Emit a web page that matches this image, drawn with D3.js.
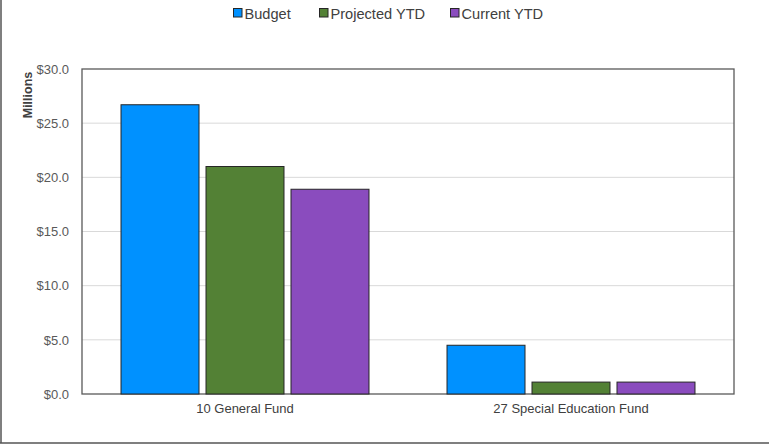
<!DOCTYPE html>
<html><head><meta charset="utf-8">
<script src="https://cdn.jsdelivr.net/npm/d3@7"></script>
<style>body{margin:0;background:#fff;} svg{display:block;font-family:"Liberation Sans",Arial,sans-serif;}</style>
</head><body>
<svg id="c" width="769" height="445"></svg>
<script>
const categories = ["10 General Fund", "27 Special Education Fund"];
const seriesNames = ["Budget", "Projected YTD", "Current YTD"];
const budget = [26.7, 4.5];
const projectedYTD = [21.0, 1.1];
const currentYTD = [18.9, 1.1];
const yTicks = [0, 5, 10, 15, 20, 25, 30];
const colors = ["#0091FF", "#538135", "#8A4CBE"];

const seriesValues = [budget, projectedYTD, currentYTD];
const svg = d3.select("#c");
const m = {l: 82, r: 734, t: 69, b: 394};

// outer border (left & bottom visible)
svg.append("line").attr("x1", 1).attr("x2", 1).attr("y1", 0).attr("y2", 443).attr("stroke", "#555").attr("stroke-width", 1.5);
svg.append("line").attr("x1", 0).attr("x2", 769).attr("y1", 443).attr("y2", 443).attr("stroke", "#555").attr("stroke-width", 1.5);

const x = d3.scaleBand().domain(categories).range([m.l, m.r]).paddingInner(0).paddingOuter(0);
const x1 = d3.scaleBand().domain(seriesNames).range([0, x.bandwidth()]).paddingInner(0.0824).paddingOuter(0.459);
const y = d3.scaleLinear().domain([0, 30]).range([m.b, m.t]);

// gridlines
svg.append("g").selectAll("line").data(yTicks.filter(d => d > 0 && d < 30)).join("line")
  .attr("x1", m.l).attr("x2", m.r).attr("y1", d => y(d)).attr("y2", d => y(d))
  .attr("stroke", "#d9d9d9").attr("stroke-width", 1);

// plot frame
svg.append("rect").attr("x", m.l).attr("y", m.t).attr("width", m.r - m.l).attr("height", m.b - m.t)
  .attr("fill", "none").attr("stroke", "#595959").attr("stroke-width", 1.3);

// bars
categories.forEach((c, ci) => {
  seriesNames.forEach((s, si) => {
    const v = seriesValues[si][ci];
    svg.append("rect")
      .attr("x", x(c) + x1(s)).attr("y", y(v))
      .attr("width", x1.bandwidth()).attr("height", y(0) - y(v))
      .attr("fill", colors[si]).attr("stroke", "#262626").attr("stroke-width", 1);
  });
});

// y axis
const yAxis = svg.append("g").attr("transform", `translate(${m.l},0)`)
  .call(d3.axisLeft(y).tickValues(yTicks).tickSize(0).tickPadding(13).tickFormat(d => "$" + d3.format(".1f")(d)));
yAxis.select(".domain").remove();
yAxis.selectAll("text").attr("fill", "#595959").style("font-size", "13px").style("font-family", "Liberation Sans, Arial, sans-serif");

// x axis
const xAxis = svg.append("g").attr("transform", `translate(0,${m.b})`)
  .call(d3.axisBottom(x).tickSize(0).tickPadding(10));
xAxis.select(".domain").remove();
xAxis.selectAll("text").attr("fill", "#404040").style("font-size", "13px").style("font-family", "Liberation Sans, Arial, sans-serif");

// y title
svg.append("text").attr("transform", "translate(32,95) rotate(-90)").attr("text-anchor", "middle")
  .attr("fill", "#404040").style("font-size", "12.5px").style("font-weight", "bold").text("Millions");

// legend
const legX = [233, 319, 450];
const lg = svg.append("g");
seriesNames.forEach((s, i) => {
  lg.append("rect").attr("x", legX[i] + 0.5).attr("y", 8.5).attr("width", 8.5).attr("height", 8.5)
    .attr("fill", colors[i]).attr("stroke", "#262626").attr("stroke-width", 1);
  lg.append("text").attr("x", legX[i] + 11.5).attr("y", 18.5).attr("fill", "#404040")
    .style("font-size", "14.6px").text(s);
});
</script>
</body></html>
